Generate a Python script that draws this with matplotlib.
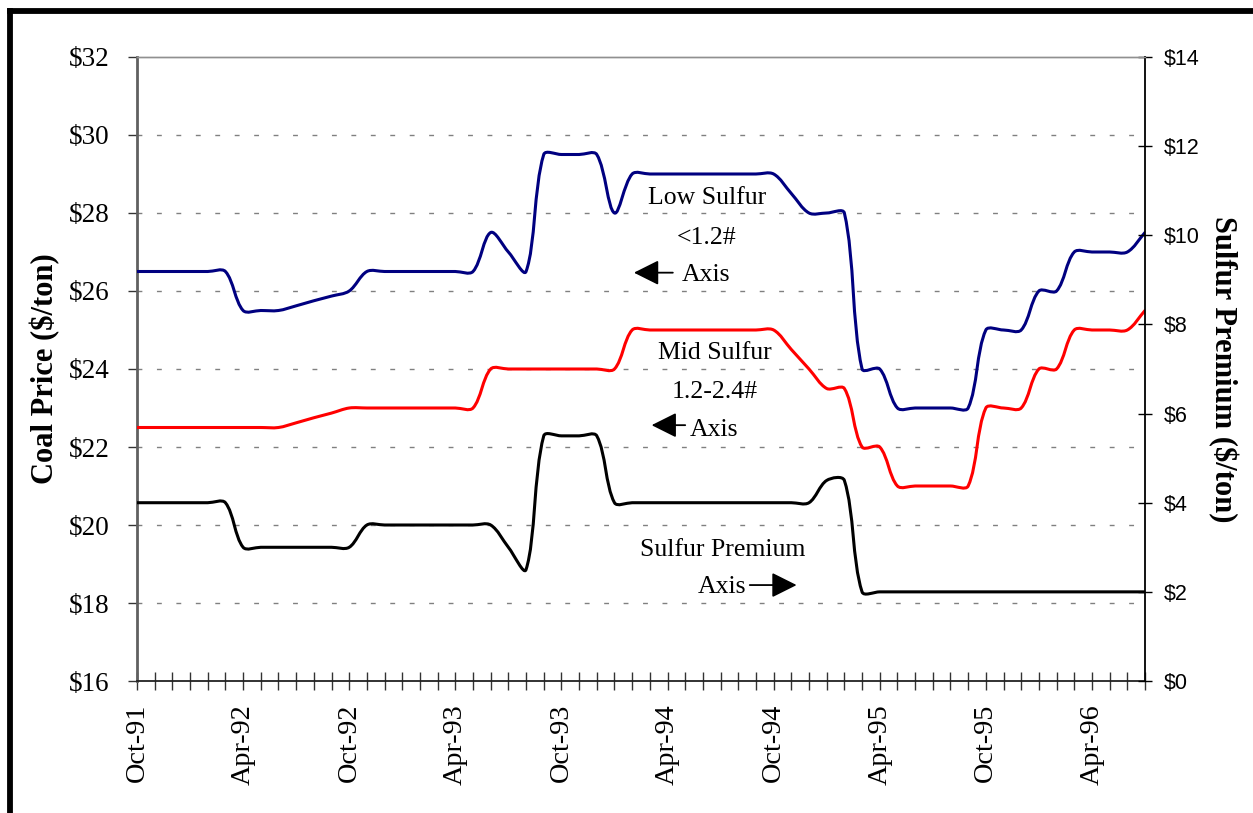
import numpy as np
import matplotlib
matplotlib.use("Agg")
import matplotlib.pyplot as plt
from matplotlib.path import Path
from matplotlib.patches import PathPatch
from matplotlib.lines import Line2D

# -----------------------------
# Monthly coal prices, Oct-91 .. Jul-96
# -----------------------------
low_sulfur = [26.5, 26.5, 26.5, 26.5, 26.5, 26.5,
              25.5, 25.5, 25.5, 25.62, 25.75, 25.87, 26.0,
              26.5, 26.5, 26.5, 26.5, 26.5, 26.5, 26.5,
              27.5, 27.0, 26.5,
              29.5, 29.5, 29.5, 29.5, 28.0,
              29.0, 29.0, 29.0, 29.0, 29.0, 29.0, 29.0, 29.0, 29.0,
              28.5, 28.0, 28.0, 28.0,
              24.0, 24.0,
              23.0, 23.0, 23.0, 23.0, 23.0,
              25.0, 25.0, 25.0,
              26.0, 26.0,
              27.0, 27.0, 27.0, 27.0, 27.5]

mid_sulfur = [22.5, 22.5, 22.5, 22.5, 22.5, 22.5,
              22.5, 22.5, 22.5, 22.62, 22.75, 22.87, 23.0,
              23.0, 23.0, 23.0, 23.0, 23.0, 23.0, 23.0,
              24.0, 24.0, 24.0,
              24.0, 24.0, 24.0, 24.0, 24.0,
              25.0, 25.0, 25.0, 25.0, 25.0, 25.0, 25.0, 25.0, 25.0,
              24.5, 24.0, 23.5, 23.5,
              22.0, 22.0,
              21.0, 21.0, 21.0, 21.0, 21.0,
              23.0, 23.0, 23.0,
              24.0, 24.0,
              25.0, 25.0, 25.0, 25.0, 25.5]

sulfur_premium = [4.0, 4.0, 4.0, 4.0, 4.0, 4.0,
                  3.0, 3.0, 3.0, 3.0, 3.0, 3.0, 3.0,
                  3.5, 3.5, 3.5, 3.5, 3.5, 3.5, 3.5,
                  3.5, 3.0, 2.5,
                  5.5, 5.5, 5.5, 5.5, 4.0,
                  4.0, 4.0, 4.0, 4.0, 4.0, 4.0, 4.0, 4.0, 4.0,
                  4.0, 4.0, 4.5, 4.5,
                  2.0, 2.0,
                  2.0, 2.0, 2.0, 2.0, 2.0,
                  2.0, 2.0, 2.0,
                  2.0, 2.0,
                  2.0, 2.0, 2.0, 2.0, 2.0]

tick_labels = ['Oct-91', 'Apr-92', 'Oct-92', 'Apr-93', 'Oct-93',
               'Apr-94', 'Oct-94', 'Apr-95', 'Oct-95', 'Apr-96']

left_ticks = [16, 18, 20, 22, 24, 26, 28, 30, 32]
right_ticks = [0, 2, 4, 6, 8, 10, 12, 14]

months = np.arange(len(low_sulfur))

SERIF = 'Liberation Serif'
SANS = 'Liberation Sans'


# -----------------------------
# Smoothed line: bezier through the monthly points, tangents weighted
# by the on-screen segment lengths (keeps overshoot small on big jumps)
# -----------------------------
def smooth_path(ax, xs, ys, f=1 / 3):
    to_px = ax.transData
    pts = to_px.transform(np.column_stack([xs, ys]).astype(float))
    padded = np.vstack([pts[0], pts, pts[-1]])
    verts = [pts[0]]
    codes = [Path.MOVETO]
    for i in range(len(pts) - 1):
        p0, p1, p2, p3 = padded[i], padded[i + 1], padded[i + 2], padded[i + 3]
        d01 = np.linalg.norm(p1 - p0)
        d12 = np.linalg.norm(p2 - p1)
        d23 = np.linalg.norm(p3 - p2)
        w1 = d12 / (d01 + d12) if d01 + d12 > 0 else 0
        w2 = d12 / (d12 + d23) if d12 + d23 > 0 else 0
        c1 = p1 + (p2 - p0) * f * w1
        c2 = p2 - (p3 - p1) * f * w2
        verts += [c1, c2, p2]
        codes += [Path.CURVE4] * 3
    verts = to_px.inverted().transform(np.array(verts))
    return Path(verts, codes)


def add_series(ax, ys, color):
    patch = PathPatch(smooth_path(ax, months, ys), fill=False, edgecolor=color,
                      lw=2.2, capstyle='round', joinstyle='round', zorder=3)
    ax.add_patch(patch)


# -----------------------------
# Figure
# -----------------------------
plt.rcParams['lines.scale_dashes'] = False
fig = plt.figure(figsize=(12.53, 8.13), dpi=100)
ax = fig.add_axes([137 / 1253, 1 - 681 / 813, (1145 - 137) / 1253, (681 - 57) / 813])
ax2 = ax.twinx()

ax.set_xlim(0, len(months) - 1)
ax.set_ylim(16, 32)
ax2.set_ylim(0, 14)

add_series(ax, low_sulfur, '#000080')
add_series(ax, mid_sulfur, '#ff0000')
add_series(ax2, sulfur_premium, 'black')

# gridlines
for v in left_ticks[1:-1]:
    ax.axhline(v, color='#808080', lw=1.0, dashes=(3.5, 10.5), zorder=1)

# x axis
ax.set_xticks(months)
xlabels = ['' for _ in months]
for k, lab in enumerate(tick_labels):
    xlabels[k * 6] = lab
ax.set_xticklabels(xlabels, rotation=90, fontfamily=SERIF, fontsize=20.3)
ax.tick_params(axis='x', direction='inout', length=13, width=1.0, pad=10,
               color='#333333')

# left axis
ax.set_yticks(left_ticks)
ax.set_yticklabels([f'${v}' for v in left_ticks], fontfamily=SERIF, fontsize=19.5)
ax.tick_params(axis='y', direction='out', length=6.5, width=1.0, pad=13,
               color='#333333')
ax.set_ylabel('Coal Price ($/ton)', fontfamily=SERIF, fontsize=22,
              fontweight='bold', labelpad=6)

# right axis
ax2.set_yticks(right_ticks)
ax2.set_yticklabels([f'${v}' for v in right_ticks], fontfamily=SANS, fontsize=15.5)
ax2.tick_params(axis='y', direction='inout', length=10, width=1.0, pad=8.5,
                color='black')
ax2.set_ylabel('Sulfur Premium ($/ton)', fontfamily=SERIF, fontsize=22,
               fontweight='bold', rotation=270, labelpad=28)

# spines
for a in (ax, ax2):
    a.spines['top'].set_color('#909090')
    a.spines['top'].set_linewidth(1.0)
ax.spines['left'].set_color('#606060')
ax.spines['left'].set_linewidth(2.0)
ax.spines['bottom'].set_color('#222222')
ax.spines['bottom'].set_linewidth(1.3)
ax.spines['right'].set_visible(False)
ax2.spines['left'].set_visible(False)
ax2.spines['bottom'].set_visible(False)
ax2.spines['right'].set_color('black')
ax2.spines['right'].set_linewidth(1.3)

# -----------------------------
# Annotations
# -----------------------------
txt = dict(fontfamily=SERIF, fontsize=18.5, ha='center', va='center', zorder=5)
arrow = dict(arrowstyle='-|>,head_length=0.7,head_width=0.35', color='black',
             lw=1.3, mutation_scale=22, shrinkA=0, shrinkB=0)

ax.text(32.25, 28.38, 'Low Sulfur', **txt)
ax.text(32.2, 27.36, '<1.2#', **txt)
ax.text(32.2, 26.41, 'Axis', **txt)
ax.annotate('', xy=(28.1, 26.47), xytext=(30.3, 26.47), arrowprops=arrow)

ax.text(32.67, 24.41, 'Mid Sulfur', **txt)
ax.text(32.67, 23.41, '1.2-2.4#', **txt)
ax.text(32.65, 22.44, 'Axis', **txt)
ax.annotate('', xy=(29.1, 22.56), xytext=(31.0, 22.56), arrowprops=arrow)

ax.text(33.13, 19.36, 'Sulfur Premium', **txt)
ax.text(33.07, 18.41, 'Axis', **txt)
ax.annotate('', xy=(37.3, 18.46), xytext=(34.65, 18.46), arrowprops=arrow)

# -----------------------------
# Heavy frame on top and left edge
# -----------------------------
fy = 1 - 11.5 / 813
fx = 10.3 / 1253
fig.add_artist(Line2D([fx, 1.0], [fy, fy], transform=fig.transFigure,
                      color='black', lw=4.2, solid_capstyle='projecting'))
fig.add_artist(Line2D([fx, fx], [0.0, fy], transform=fig.transFigure,
                      color='black', lw=4.2, solid_capstyle='projecting'))

fig.savefig('out.png', dpi=100)
